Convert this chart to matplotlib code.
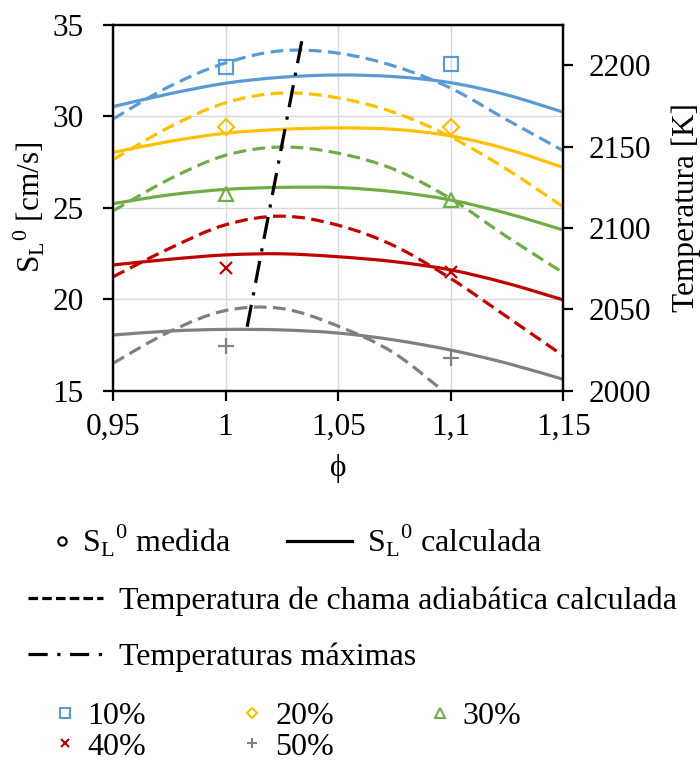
import matplotlib
matplotlib.use("Agg")
import matplotlib.pyplot as plt
from matplotlib.lines import Line2D
from matplotlib.patches import PathPatch
from matplotlib.path import Path
from matplotlib.ticker import FixedLocator, FixedFormatter

plt.rcParams['font.family'] = ['Liberation Serif', 'DejaVu Serif']
plt.rcParams['mathtext.fontset'] = 'custom'
plt.rcParams['mathtext.rm'] = 'Liberation Serif'

FS = 22.5
FS_LEG = 23

# equivalence ratio grid of the calculated curves
phi = [0.95, 0.975, 1.0, 1.025, 1.05, 1.075, 1.1, 1.125, 1.15]

# calculated laminar flame speed [cm/s]
sl_calc_10 = [30.52, 31.22, 31.80, 32.13, 32.25, 32.16, 31.83, 31.16, 30.22]
sl_calc_20 = [28.02, 28.62, 29.07, 29.28, 29.36, 29.28, 28.92, 28.20, 27.20]
sl_calc_30 = [25.22, 25.70, 26.00, 26.11, 26.10, 25.87, 25.42, 24.69, 23.78]
sl_calc_40 = [21.87, 22.18, 22.42, 22.48, 22.32, 22.05, 21.60, 20.87, 19.96]
sl_calc_50 = [18.04, 18.26, 18.35, 18.32, 18.15, 17.77, 17.22, 16.50, 15.62]

# adiabatic flame temperature [K]
t_ad_10 = [2167, 2187, 2201.5, 2209, 2207.5, 2199.5, 2186, 2166.5, 2147.5]
t_ad_20 = [2142, 2162, 2177, 2183, 2180, 2171, 2156, 2136, 2113]
t_ad_30 = [2110.5, 2130, 2144.7, 2149.8, 2146, 2136, 2118, 2094.6, 2072.5]
t_ad_40 = [2070, 2087.4, 2102, 2107.3, 2101.7, 2089, 2069, 2045.4, 2021.5]
phi_50 = [0.95, 0.975, 1.0, 1.025, 1.05, 1.075, 1.1]
t_ad_50 = [2016.8, 2036.2, 2049.3, 2050.5, 2039.7, 2023, 1996]

# measured flame speed
phi_med = [1.0, 1.1]
sl_med_10 = [32.67, 32.84]
sl_med_20 = [29.39, 29.43]
sl_med_30 = [25.73, 25.42]
sl_med_40 = [21.72, 21.47]
sl_med_50 = [17.46, 16.81]

# line through the temperature maxima
phi_tmax = [1.0096, 1.0346]
t_tmax = [2039.3, 2220.4]

x_ticks = [0.95, 1.0, 1.05, 1.1, 1.15]
x_labels = ['0,95', '1', '1,05', '1,1', '1,15']

blue = '#5B9BD5'
yellow = '#FFC000'
green = '#70AD47'
red = '#C00000'
gray = '#808080'

series = [
    (blue, sl_calc_10, phi, t_ad_10, sl_med_10, 's', '10%'),
    (yellow, sl_calc_20, phi, t_ad_20, sl_med_20, 'D', '20%'),
    (green, sl_calc_30, phi, t_ad_30, sl_med_30, '^', '30%'),
    (red, sl_calc_40, phi, t_ad_40, sl_med_40, 'x', '40%'),
    (gray, sl_calc_50, phi_50, t_ad_50, sl_med_50, '+', '50%'),
]

lw = 2.3
dash = (4, 2)


def smooth_line(ax, xs, ys, **kw):
    # smoothed line through the points (cubic Bezier segments, Catmull-Rom tangents)
    pts = list(zip(xs, ys))
    n = len(pts)
    verts = [pts[0]]
    codes = [Path.MOVETO]
    for i in range(n - 1):
        p0 = pts[max(i - 1, 0)]
        p1 = pts[i]
        p2 = pts[i + 1]
        p3 = pts[min(i + 2, n - 1)]
        c1 = (p1[0] + (p2[0] - p0[0]) / 6, p1[1] + (p2[1] - p0[1]) / 6)
        c2 = (p2[0] - (p3[0] - p1[0]) / 6, p2[1] - (p3[1] - p1[1]) / 6)
        verts += [c1, c2, p2]
        codes += [Path.CURVE4] * 3
    patch = PathPatch(Path(verts, codes), fill=False, capstyle='butt', **kw)
    ax.add_patch(patch)
    return patch


fig = plt.figure(figsize=(7, 7.64), dpi=100)
ax = fig.add_axes([0.1614, 0.4886, 0.8047 - 0.1614, 0.9677 - 0.4886])
ax2 = ax.twinx()

msize = {'s': 10, 'D': 8, '^': 10, 'x': 9, '+': 11}
for color, sl, ph_t, t, med, mk, lab in series:
    smooth_line(ax, phi, sl, edgecolor=color, lw=lw)
    smooth_line(ax2, ph_t, t, edgecolor=color, lw=lw, linestyle=(0, dash))
    ax.plot(phi_med, med, linestyle='none', marker=mk, markersize=msize[mk],
            markerfacecolor='none', markeredgecolor=color, markeredgewidth=1.6)

ax2.plot(phi_tmax, t_tmax, color='black', lw=lw, linestyle=(0, (7, 3, 1, 3)))

ax.set_xlim(0.95, 1.15)
ax.set_ylim(15, 35)
ax2.set_ylim(2000, 2225)
ax.xaxis.set_major_locator(FixedLocator(x_ticks))
ax.xaxis.set_major_formatter(FixedFormatter(x_labels))
ax.set_yticks([15, 20, 25, 30, 35])
ax2.set_yticks([2000, 2050, 2100, 2150, 2200])
ax.grid(True, color='#D9D9D9', lw=1.0)
ax.set_axisbelow(True)

for a in (ax, ax2):
    for s in a.spines.values():
        s.set_linewidth(1.6)
    a.tick_params(direction='out', length=7, width=1.6, labelsize=FS)
ax.tick_params(axis='x', pad=9)
ax.tick_params(axis='y', pad=14)
ax2.tick_params(axis='y', pad=11)

ax.set_xlabel('ϕ', fontsize=FS, labelpad=9)
ax.set_ylabel('S$_\\mathregular{L}$$^\\mathregular{0}$ [cm/s]', fontsize=FS, labelpad=4)
ax2.set_ylabel('Temperatura [K]', fontsize=FS, labelpad=15)


def put_legend(handles, labels, x, y, hl, pad, **kw):
    leg = fig.legend(handles, labels, loc='center left', bbox_to_anchor=(x, y),
                     frameon=False, borderpad=0, borderaxespad=0,
                     handlelength=hl, handletextpad=pad, fontsize=FS_LEG, **kw)
    return leg


H = 764.0
W = 700.0
circ = Line2D([], [], linestyle='none', marker='o', markersize=6,
              markerfacecolor='none', markeredgecolor='black', markeredgewidth=1.5)
solid = Line2D([], [], color='black', lw=lw)
dashed = Line2D([], [], color='black', lw=lw, linestyle=(0, (3, 1.3)))
dashdot = Line2D([], [], color='black', lw=lw, linestyle=(0, (6, 3, 1, 3)))

put_legend([circ], ['S$_\\mathregular{L}$$^\\mathregular{0}$ medida'], 47 / W, 1 - 541 / H, 0.93, 0.15)
put_legend([solid], ['S$_\\mathregular{L}$$^\\mathregular{0}$ calculada'], 287 / W, 1 - 541 / H, 2.05, 0.45)
put_legend([dashed], ['Temperatura de chama adiabática calculada'], 28 / W, 1 - 601 / H, 2.35, 0.5)
put_legend([dashdot], ['Temperaturas máximas'], 28 / W, 1 - 657 / H, 2.35, 0.5)

mk_handles = {}
for color, sl, ph_t, t, med, mk, lab in series:
    mk_handles[lab] = Line2D([], [], linestyle='none', marker=mk,
                             markersize=msize[mk] * 0.65, markerfacecolor='none',
                             markeredgecolor=color, markeredgewidth=1.5)
order = ['10%', '40%', '20%', '50%', '30%']
put_legend([mk_handles[k] for k in order], order, 50 / W, 1 - 731.5 / H, 0.93, 0.25,
           ncol=3, columnspacing=2.85, labelspacing=0.05)

fig.savefig('out.png', dpi=100)
